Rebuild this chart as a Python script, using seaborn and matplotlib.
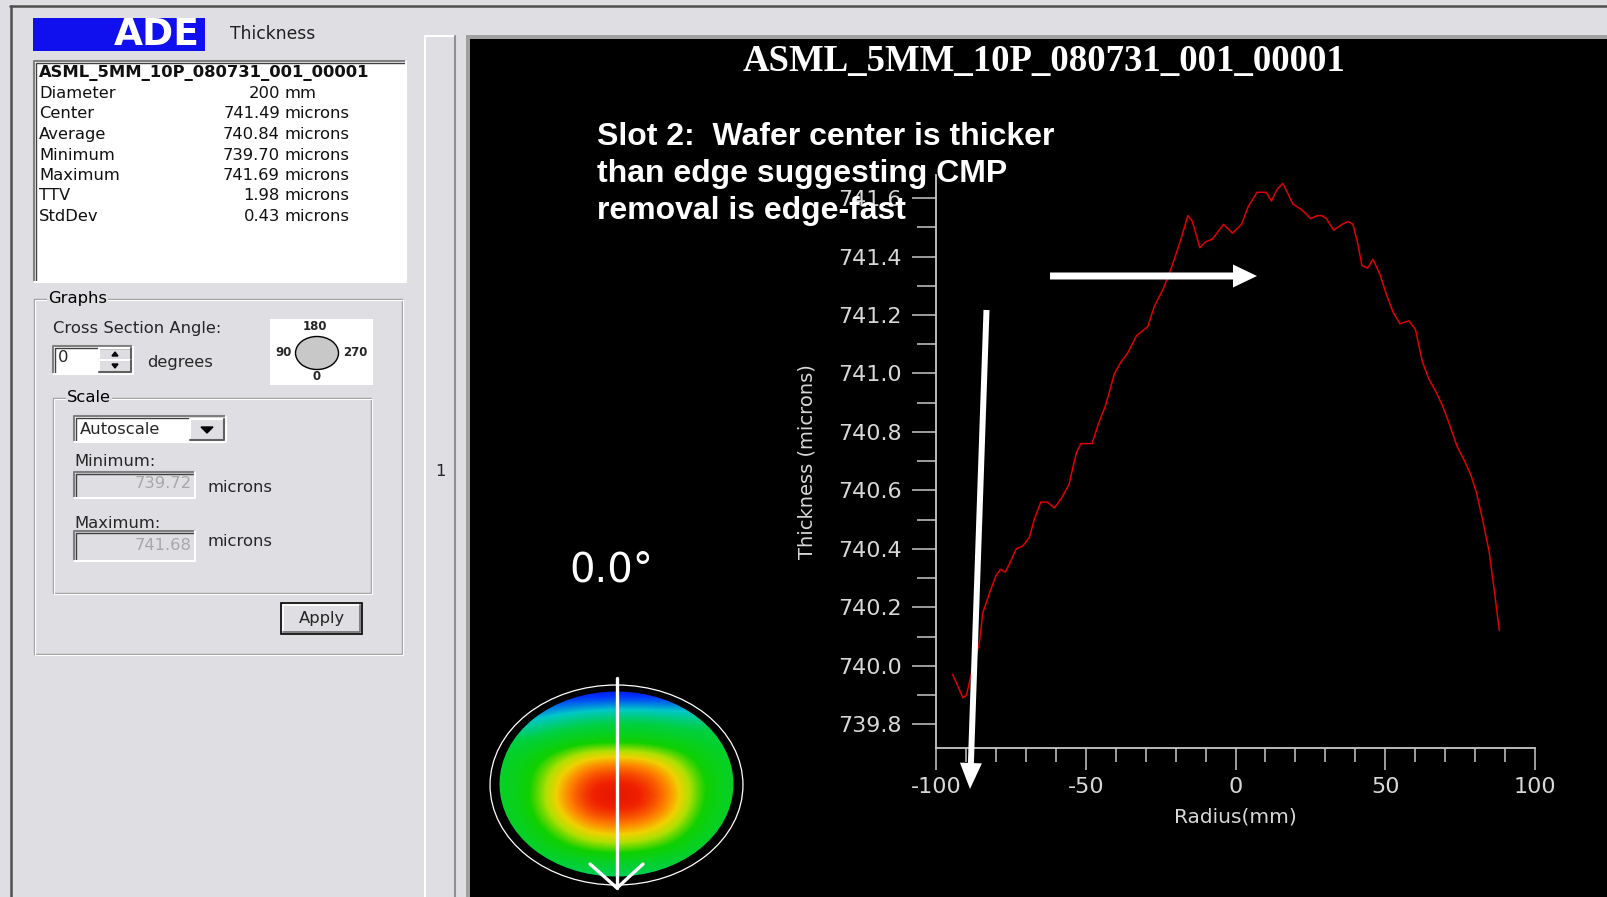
import numpy as np
import matplotlib
matplotlib.use("Agg")
import matplotlib.pyplot as plt
from matplotlib import patches
from matplotlib.colors import LinearSegmentedColormap
import seaborn as sns

# cross section at 0 degrees
radius_mm = [-94.4, -91.0, -89.8, -88.5, -87.0, -85.5, -84.4, -82.1, -79.9, -78.4, -76.9, -75.4,
             -73.2, -71.0, -68.8, -67.2, -65.0, -62.8, -60.5, -58.3, -55.6, -53.1, -51.6, -47.9,
             -45.7, -43.4, -40.4, -38.2, -36.0, -33.0, -29.3, -27.1, -24.1, -21.1, -18.2, -15.9,
             -14.4, -11.9, -10.0, -7.7, -4.0, -1.0, 2.0, 4.2, 7.2, 10.2, 12.0, 13.9,
             15.8, 17.3, 19.1, 22.1, 25.1, 27.3, 28.8, 30.3, 32.8, 35.5, 37.7, 39.2,
             40.7, 42.2, 44.1, 45.9, 48.2, 50.4, 52.6, 54.9, 57.9, 60.1, 62.4, 64.6,
             66.8, 69.1, 71.3, 74.0, 76.5, 78.7, 80.5, 82.5, 84.7, 86.5, 88.1]
thickness_um = [739.97, 739.89, 739.90, 739.96, 740.02, 740.08, 740.18, 740.25, 740.31, 740.33, 740.32, 740.35,
                740.40, 740.41, 740.44, 740.50, 740.56, 740.56, 740.54, 740.57, 740.62, 740.73, 740.76, 740.76,
                740.83, 740.89, 741.00, 741.04, 741.07, 741.13, 741.16, 741.23, 741.29, 741.37, 741.46, 741.54,
                741.52, 741.43, 741.45, 741.46, 741.51, 741.48, 741.51, 741.57, 741.62, 741.62, 741.59, 741.63,
                741.65, 741.62, 741.58, 741.56, 741.53, 741.54, 741.54, 741.53, 741.49, 741.51, 741.52, 741.51,
                741.45, 741.37, 741.36, 741.39, 741.34, 741.27, 741.21, 741.17, 741.18, 741.15, 741.04, 740.98,
                740.94, 740.89, 740.83, 740.75, 740.70, 740.65, 740.59, 740.50, 740.39, 740.25, 740.12]

y_min, y_max = 739.72, 741.68
y_major = [739.8, 740.0, 740.2, 740.4, 740.6, 740.8, 741.0, 741.2, 741.4, 741.6]
y_minor = [739.9, 740.1, 740.3, 740.5, 740.7, 740.9, 741.1, 741.3, 741.5]
x_major = [-100, -50, 0, 50, 100]
x_minor = [-90, -80, -70, -60, -40, -30, -20, -10, 10, 20, 30, 40, 60, 70, 80, 90]

wafer_id = "ASML_5MM_10P_080731_001_00001"
stat_names = ["Diameter", "Center", "Average", "Minimum", "Maximum", "TTV", "StdDev"]
stat_values = ["200", "741.49", "740.84", "739.70", "741.69", "1.98", "0.43"]
stat_units = ["mm", "microns", "microns", "microns", "microns", "microns", "microns"]
scale_min = "739.72"
scale_max = "741.68"
angle_text = "0.0°"
note = "Slot 2:  Wafer center is thicker\nthan edge suggesting CMP\nremoval is edge-fast"

# coarse thickness map (rows top -> bottom), estimated from the colours
map_grid = [
    [739.85, 739.80, 739.80, 739.80, 739.80, 739.80, 739.80, 739.85, 739.95],
    [740.10, 740.15, 740.30, 740.40, 740.45, 740.45, 740.40, 740.35, 740.35],
    [740.50, 740.55, 740.65, 740.70, 740.70, 740.70, 740.65, 740.60, 740.55],
    [740.60, 740.75, 741.00, 741.25, 741.30, 741.25, 741.05, 740.75, 740.60],
    [740.60, 740.80, 741.20, 741.50, 741.55, 741.50, 741.25, 740.85, 740.60],
    [740.60, 740.80, 741.20, 741.50, 741.55, 741.50, 741.25, 740.80, 740.60],
    [740.55, 740.70, 740.95, 741.20, 741.25, 741.20, 741.00, 740.70, 740.55],
    [740.50, 740.55, 740.70, 740.80, 740.85, 740.80, 740.70, 740.55, 740.50],
    [740.40, 740.40, 740.40, 740.40, 740.40, 740.40, 740.40, 740.40, 740.40],
]
map_colors = [(0.0, '#0000a0'), (0.1, '#0030ff'), (0.25, '#00c8c8'), (0.4, '#00d040'),
              (0.55, '#10d000'), (0.65, '#b0e000'), (0.72, '#f0d000'), (0.8, '#ff8000'),
              (0.9, '#f02000'), (1.0, '#c00000')]

sns.set_theme(style="white")
plt.rcParams['font.family'] = ['DejaVu Sans']
plt.rcParams['axes.unicode_minus'] = False

W, H = 1608, 897
GRAY = '#dfdfe3'
FS = 11.8
fig = plt.figure(figsize=(W / 100, H / 100), dpi=100)
fig.patch.set_facecolor(GRAY)


def fpos(x0, y0, x1, y1):
    return [x0 / W, 1 - y1 / H, (x1 - x0) / W, (y1 - y0) / H]


bg = fig.add_axes([0, 0, 1, 1])
bg.set_xlim(0, W)
bg.set_ylim(H, 0)
bg.set_autoscale_on(False)
bg.axis('off')


def box(x0, y0, x1, y1, fc, ec='none', lw=1.0):
    bg.add_patch(patches.Rectangle((x0, y0), x1 - x0, y1 - y0, facecolor=fc, edgecolor=ec, linewidth=lw))


def sunken(x0, y0, x1, y1, fc='white'):
    box(x0, y0, x1, y1, fc)
    bg.plot([x0, x0, x1], [y1, y0, y0], color='#808080', lw=1.5)
    bg.plot([x0 + 2, x0 + 2, x1 - 1], [y1 - 1, y0 + 2, y0 + 2], color='#404040', lw=1)
    bg.plot([x0, x1, x1], [y1, y1, y0], color='white', lw=1.5)


def raised(x0, y0, x1, y1):
    box(x0, y0, x1, y1, GRAY)
    bg.plot([x0, x0, x1], [y1, y0, y0], color='white', lw=1.5)
    bg.plot([x0, x1, x1], [y1, y1, y0], color='#606060', lw=1.5)


def group(x0, y0, x1, y1, label):
    bg.add_patch(patches.Rectangle((x0, y0), x1 - x0, y1 - y0, fill=False, ec='#a0a0a0', lw=1))
    bg.add_patch(patches.Rectangle((x0 + 1.5, y0 + 1.5), x1 - x0, y1 - y0, fill=False, ec='white', lw=0.8))
    bg.text(x0 + 14, y0, label, fontsize=FS, va='center', ha='left', color='black',
            bbox=dict(fc=GRAY, ec='none', pad=1))


# window frame
bg.plot([10, W], [6, 6], color='#505050', lw=1.8)
bg.plot([11, 11], [6, H], color='#505050', lw=1.8)

# logo and header
box(33, 18, 205, 51, '#1010ee')
bg.text(157, 35, "ADE", color='white', fontsize=27, fontweight='heavy', ha='center', va='center')
bg.text(230, 34, "Thickness", fontsize=12.3, ha='left', va='center', color='#202020')

# statistics box
sunken(34, 61, 406, 282)
bg.text(39, 73, wafer_id, fontsize=FS, fontweight='bold', ha='left', va='center', color='#101010')
for i in range(len(stat_names)):
    yy = 93.5 + i * 20.5
    bg.text(39, yy, stat_names[i], fontsize=FS, ha='left', va='center', color='#101010')
    bg.text(280, yy, stat_values[i], fontsize=FS, ha='right', va='center', color='#101010')
    bg.text(285, yy, stat_units[i], fontsize=FS, ha='left', va='center', color='#101010')

# graphs group
group(34, 299, 402, 654, "Graphs")
bg.text(53, 328, "Cross Section Angle:", fontsize=FS, ha='left', va='center')
sunken(53, 346, 133, 374)
bg.text(58, 358, "0", fontsize=FS, ha='left', va='center')
raised(99, 348, 131, 360)
raised(99, 360, 131, 372)
bg.add_patch(patches.Polygon([[112, 356], [118, 356], [115, 352]], color='black'))
bg.add_patch(patches.Polygon([[112, 364], [118, 364], [115, 368]], color='black'))
bg.text(147, 363, "degrees", fontsize=FS, ha='left', va='center')

box(270, 319, 373, 385, 'white')
bg.add_patch(patches.Ellipse((317, 353), 43, 33, facecolor='#c8c8c8', edgecolor='black', lw=1))
bg.text(315, 327, "180", fontsize=8.5, fontweight='bold', ha='center', va='center')
bg.text(284, 353, "90", fontsize=8.5, fontweight='bold', ha='center', va='center')
bg.text(355, 353, "270", fontsize=8.5, fontweight='bold', ha='center', va='center')
bg.text(317, 376, "0", fontsize=8.5, fontweight='bold', ha='center', va='center')

group(53, 398, 371, 593, "Scale")
sunken(74, 416, 226, 442)
bg.text(80, 430, "Autoscale", fontsize=FS, ha='left', va='center')
raised(190, 419, 224, 440)
bg.add_patch(patches.Polygon([[201, 427], [213, 427], [207, 433]], color='black'))

bg.text(74, 461, "Minimum:", fontsize=FS, ha='left', va='center')
sunken(74, 472, 195, 498, fc=GRAY)
bg.text(192, 483, scale_min, fontsize=FS, ha='right', va='center', color='#a8a8a8')
bg.text(208, 488, "microns", fontsize=FS, ha='left', va='center')
bg.text(74, 523, "Maximum:", fontsize=FS, ha='left', va='center')
sunken(74, 531, 195, 561, fc=GRAY)
bg.text(192, 545, scale_max, fontsize=FS, ha='right', va='center', color='#a8a8a8')
bg.text(208, 542, "microns", fontsize=FS, ha='left', va='center')

box(281, 603, 362, 634, GRAY, ec='black', lw=1.2)
bg.plot([283, 283, 360], [632, 605, 605], color='white', lw=1.2)
bg.plot([283, 360, 360], [632, 632, 605], color='#707070', lw=1.2)
bg.text(322, 618, "Apply", fontsize=FS, ha='center', va='center')

# splitter strip
box(425, 36, 455, H, GRAY)
bg.plot([425, 425], [36, H], color='white', lw=1.5)
bg.plot([425, 455], [36, 36], color='white', lw=1.5)
bg.plot([455, 455], [36, H], color='#909090', lw=1.5)
bg.text(440, 472, "1", fontsize=FS, ha='center', va='center')

# black graph panel
box(466, 35, W, H, '#a0a0a0')
box(470, 39, W, H, 'black')

# thickness profile
ax = fig.add_axes(fpos(936, 174.7, 1535, 747.6))
ax.set_facecolor('none')
sns.lineplot(x=radius_mm, y=thickness_um, ax=ax, color='#e00000', linewidth=1.1, estimator=None)
ax.set_xlim(-100, 100)
ax.set_ylim(y_min, y_max)
ax.set_xticks(x_major)
ax.set_xticks(x_minor, minor=True)
ax.set_yticks(y_major)
ax.set_yticks(y_minor, minor=True)
ax.set_yticklabels([f"{v:.1f}" for v in y_major])
axis_c = '#c8c8c8'
for side in ['top', 'right']:
    ax.spines[side].set_visible(False)
for side in ['left', 'bottom']:
    ax.spines[side].set_color(axis_c)
    ax.spines[side].set_linewidth(1.3)
ax.tick_params(axis='y', which='major', direction='out', length=17.5, width=1.1, color=axis_c,
               labelcolor='#d8d8d8', labelsize=16, pad=7, left=True)
ax.tick_params(axis='y', which='minor', direction='out', length=14, width=1.1, color=axis_c, left=True)
ax.tick_params(axis='x', which='major', direction='out', length=16, width=1.1, color=axis_c,
               labelcolor='#d8d8d8', labelsize=16, pad=5, bottom=True)
ax.tick_params(axis='x', which='minor', direction='out', length=10, width=1.1, color=axis_c, bottom=True)
ax.set_xlabel("Radius(mm)", fontsize=14.5, color='#d8d8d8')
ax.set_ylabel("Thickness (microns)", fontsize=14, color='#d8d8d8')
ax.xaxis.set_label_coords(0.5, -0.104)
ax.yaxis.set_label_coords(-0.199, 0.5)
ax.grid(False)

# wafer map
wa = fig.add_axes(fpos(486, 681, 747, 889))
wa.set_xlim(-103.2, 103.2)
wa.set_ylim(104, -104)
wa.axis('off')
wafer_cmap = LinearSegmentedColormap.from_list("wafer", map_colors)
img = wa.imshow(np.array(map_grid), cmap=wafer_cmap, vmin=y_min, vmax=y_max,
                extent=(-100, 100, 100, -100), interpolation='bicubic', aspect='auto')
img.set_clip_path(patches.Circle((0, -1), 92.5, transform=wa.transData))
wa.add_patch(patches.Ellipse((0, 0), 200, 200, fill=False, ec='white', lw=0.9))

# overlay: titles, annotations, arrows
top = fig.add_axes([0, 0, 1, 1], zorder=5)
top.set_xlim(0, W)
top.set_ylim(H, 0)
top.set_autoscale_on(False)
top.axis('off')

top.text(1044, 62, wafer_id, family='Liberation Serif', fontweight='bold', fontsize=26.5,
         color='white', ha='center', va='center')
top.text(597, 174, note, family='Liberation Sans', fontweight='bold', fontsize=23,
         color='white', ha='left', va='center', linespacing=1.3)
top.text(569, 571, angle_text, fontsize=29, color='white', ha='left', va='center')

top.add_patch(patches.FancyArrow(1050, 276, 207, 0, width=7, head_width=23, head_length=24,
                                 length_includes_head=True, color='white', lw=0))
top.add_patch(patches.FancyArrow(986.5, 310, -16.5, 479, width=6, head_width=22, head_length=26,
                                 length_includes_head=True, color='white', lw=0))

top.plot([617, 617], [678, 888], color='white', lw=2.4)
top.plot([590, 617, 643], [864, 888, 864], color='white', lw=2.4)

fig.savefig("out.png", dpi=100, facecolor=fig.get_facecolor())
